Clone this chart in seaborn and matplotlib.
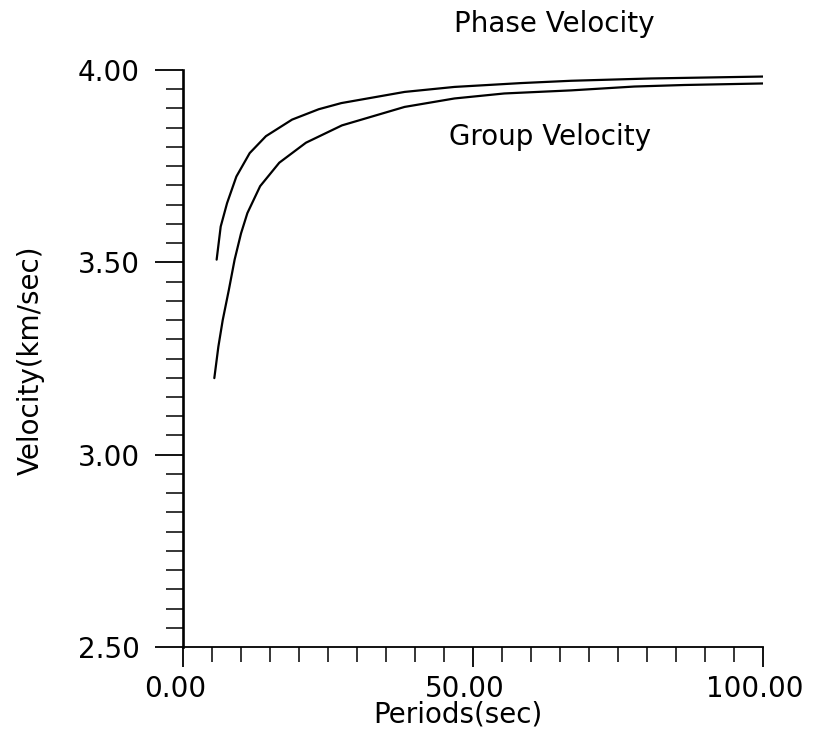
import numpy as np
import pandas as pd
import matplotlib
matplotlib.use("Agg")
import matplotlib.pyplot as plt
import matplotlib.transforms as mtransforms
from matplotlib.ticker import MultipleLocator, FormatStrFormatter
import seaborn as sns

# ---- data ----
phase_period = [5.8, 6.5, 7.6, 9.2, 11.5, 14.3, 18.8, 23.4, 27.3, 38.2, 46.8, 58.3, 66.9, 80.7, 100.0]
phase_velocity = [3.507, 3.593, 3.654, 3.723, 3.784, 3.828, 3.871, 3.898, 3.914, 3.943, 3.956, 3.966, 3.972, 3.978, 3.983]

group_period = [5.4, 6.1, 6.85, 7.9, 8.9, 10.0, 11.1, 13.3, 16.6, 21.2, 27.4, 38.2, 46.8, 55.4, 66.9, 77.8, 86.4, 100.0]
group_velocity = [3.199, 3.281, 3.350, 3.428, 3.507, 3.575, 3.628, 3.698, 3.759, 3.811, 3.856, 3.904, 3.926, 3.939, 3.947, 3.957, 3.961, 3.965]

x_ticks = [0, 50, 100]
y_ticks = [2.5, 3.0, 3.5, 4.0]
x_label = "Periods(sec)"
y_label = "Velocity(km/sec)"
phase_label = "Phase Velocity"
group_label = "Group Velocity"

sns.set_style("ticks")
plt.rcParams["font.family"] = ["DejaVu Sans"]

W, H = 817, 742
fig = plt.figure(figsize=(W / 100, H / 100), dpi=100)
left, right, top, bottom = 183, 763, 70, 647
ax = fig.add_axes([left / W, 1 - bottom / H, (right - left) / W, (bottom - top) / H])

phase_df = pd.DataFrame({"period": phase_period, "velocity": phase_velocity})
group_df = pd.DataFrame({"period": group_period, "velocity": group_velocity})
sns.lineplot(data=phase_df, x="period", y="velocity", ax=ax, color="black",
             linewidth=1.6, sort=False, estimator=None)
sns.lineplot(data=group_df, x="period", y="velocity", ax=ax, color="black",
             linewidth=1.6, sort=False, estimator=None)

ax.set_xlim(0, 100)
ax.set_ylim(2.5, 4.0)
ax.set_xticks(x_ticks)
ax.set_yticks(y_ticks)
ax.xaxis.set_minor_locator(MultipleLocator(5))
ax.yaxis.set_minor_locator(MultipleLocator(0.05))
ax.xaxis.set_major_formatter(FormatStrFormatter("%.2f"))
ax.yaxis.set_major_formatter(FormatStrFormatter("%.2f"))

for s in ["top", "right"]:
    ax.spines[s].set_visible(False)
ax.spines["left"].set_linewidth(1.9)
ax.spines["bottom"].set_linewidth(1.3)
ax.spines["left"].set_color("black")
ax.spines["bottom"].set_color("black")

FS = 20
ax.tick_params(axis="x", which="major", direction="out", length=14.5, width=1.3,
               pad=6, labelsize=FS, colors="black")
ax.tick_params(axis="x", which="minor", direction="out", length=10.5, width=1.3)
ax.tick_params(axis="y", which="major", direction="out", length=20, width=1.3,
               pad=11, labelsize=FS, colors="black")
ax.tick_params(axis="y", which="minor", direction="out", length=12.5, width=1.3)

offset = mtransforms.ScaledTranslation(-8 / 100, 0, fig.dpi_scale_trans)
for lab in ax.get_xticklabels():
    lab.set_transform(lab.get_transform() + offset)

ax.set_xlabel(x_label, fontsize=FS, color="black")
ax.set_ylabel(y_label, fontsize=FS, color="black")
ax.xaxis.set_label_coords((458 - left) / (right - left), -(701 - bottom) / (bottom - top))
ax.yaxis.set_label_coords(-(left - 45) / (right - left), (bottom - 360) / (bottom - top))

fig.text(554 / W, 1 - 32 / H, phase_label, fontsize=FS, va="baseline", ha="center", color="black")
fig.text(550 / W, 1 - 145 / H, group_label, fontsize=FS, va="baseline", ha="center", color="black")

fig.patch.set_facecolor("white")
ax.set_facecolor("white")
fig.savefig("out.png", dpi=100, facecolor="white")
